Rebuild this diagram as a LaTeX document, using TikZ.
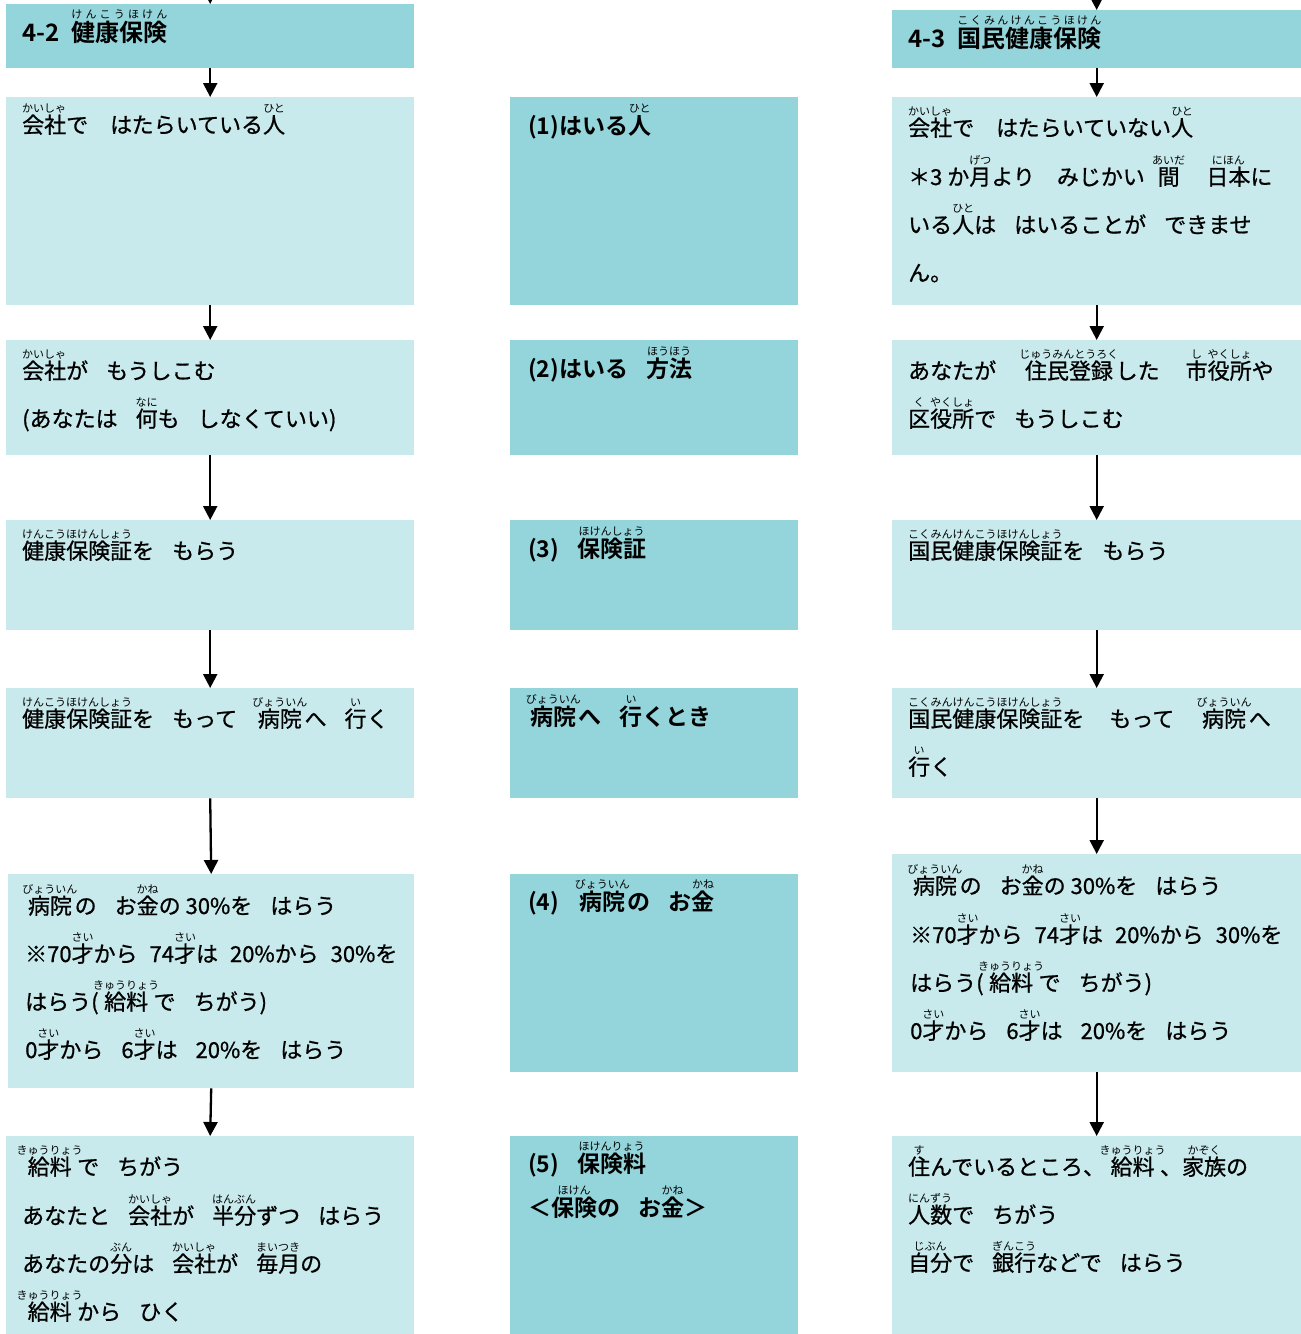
\documentclass[tikz,border=0pt]{standalone}
\usepackage{fontspec}
\setmainfont{Noto Sans CJK JP}[BoldFont={Noto Sans CJK JP Bold},UprightFeatures={FakeBold=0.8}]
\newfontfamily\rubyfam{Noto Sans CJK JP}
\usetikzlibrary{arrows.meta}
\definecolor{dteal}{RGB}{148,213,219}
\definecolor{lteal}{RGB}{200,234,236}
\def\rbraise{21pt}
\newcommand\rbfont{\rubyfam\fontsize{11pt}{12pt}\mdseries\selectfont}
% ruby centred above its base; a wider ruby widens the base a little
\newcommand\rb[2]{\leavevmode\begingroup
  \setbox0\hbox{#1}\setbox2\hbox{\rbfont #2}%
  \dimen0=\wd2 \advance\dimen0 by -\wd0 \divide\dimen0 by 2
  \ifdim\dimen0>0pt \setbox0\hbox to\dimexpr\wd0+\dimen0\relax{\hss\unhbox0\hss}\fi
  \rlap{\hbox to\wd0{\hss\raisebox{\rbraise}{\box2}\hss}}\box0\endgroup}
% ruby spread over the whole base (title lines)
\newcommand\rbd[2]{\leavevmode\begingroup
  \setbox0\hbox{#1}%
  \rlap{\raisebox{\rbraise}{\hbox to\wd0{\rbfont #2}}}\box0\endgroup}
\newcommand\gap{\hspace{18pt}}
\newcommand\sgap{\hspace{12pt}}
\tikzset{
  dbox/.style={fill=dteal, draw=none, inner sep=0pt, anchor=north west},
  lbox/.style={fill=lteal, draw=none, inner sep=0pt, anchor=north west},
  body/.style={anchor=base west, inner sep=0pt, font=\fontsize{22pt}{26pt}\selectfont\def\rbraise{21pt}},
  head/.style={anchor=base west, inner sep=0pt, font=\fontsize{24pt}{28pt}\selectfont\bfseries\def\rbraise{23pt}},
  mhead/.style={anchor=base west, inner sep=0pt, font=\fontsize{23pt}{27pt}\selectfont\bfseries\def\rbraise{22pt}},
  arr/.style={line width=2.3pt, -{Triangle[length=14pt,width=14pt]}},
}
\begin{document}
\begin{tikzpicture}[x=1pt,y=-1pt]
\fill[white] (0,0) rectangle (1301,1334);
\useasboundingbox (0,0) rectangle (1301,1334);
% left column boxes
\node[dbox, minimum width=408pt, minimum height=64pt] (LT) at (6,4) {};
\node[lbox, minimum width=408pt, minimum height=208pt] (L1) at (6,97) {};
\node[lbox, minimum width=408pt, minimum height=115pt] (L2) at (6,340) {};
\node[lbox, minimum width=408pt, minimum height=110pt] (L3) at (6,520) {};
\node[lbox, minimum width=408pt, minimum height=110pt] (L4) at (6,688) {};
\node[lbox, minimum width=406pt, minimum height=214pt] (L5) at (8,874) {};
\node[lbox, minimum width=408pt, minimum height=198pt] (L6) at (6,1136) {};
% middle column boxes
\node[dbox, minimum width=288pt, minimum height=208pt] (M1) at (510,97) {};
\node[dbox, minimum width=288pt, minimum height=115pt] (M2) at (510,340) {};
\node[dbox, minimum width=288pt, minimum height=110pt] (M3) at (510,520) {};
\node[dbox, minimum width=288pt, minimum height=110pt] (M4) at (510,688) {};
\node[dbox, minimum width=288pt, minimum height=198pt] (M5) at (510,874) {};
\node[dbox, minimum width=288pt, minimum height=198pt] (M6) at (510,1136) {};
% right column boxes
\node[dbox, minimum width=409pt, minimum height=58pt] (RT) at (892,10) {};
\node[lbox, minimum width=409pt, minimum height=208pt] (R1) at (892,97) {};
\node[lbox, minimum width=409pt, minimum height=115pt] (R2) at (892,340) {};
\node[lbox, minimum width=409pt, minimum height=110pt] (R3) at (892,520) {};
\node[lbox, minimum width=409pt, minimum height=110pt] (R4) at (892,688) {};
\node[lbox, minimum width=409pt, minimum height=218pt] (R5) at (892,854) {};
\node[lbox, minimum width=409pt, minimum height=198pt] (R6) at (892,1136) {};
% arrows
\coordinate (LTin) at (210,-20);
\coordinate (RTin) at (1096.5,-20);
\draw[arr] (LTin) -- (LT.north);
\draw[arr] (LT.south) -- (L1.north);
\draw[arr] (L1.south) -- (L2.north);
\draw[arr] (L2.south) -- (L3.north);
\draw[arr] (L3.south) -- (L4.north);
\draw[arr] (L4.south) -- (L5.north);
\draw[arr] (L5.south) -- (L6.north);
\draw[arr] (RTin) -- (RT.north);
\draw[arr] (RT.south) -- (R1.north);
\draw[arr] (R1.south) -- (R2.north);
\draw[arr] (R2.south) -- (R3.north);
\draw[arr] (R3.south) -- (R4.north);
\draw[arr] (R4.south) -- (R5.north);
\draw[arr] (R5.south) -- (R6.north);
% left texts
\node[head] (LTt) at (22,41) {4-2\hspace{12pt}\rbd{健康保険}{け\hfil ん\hfil こ\hfil う\hfil ほ\hfil け\hfil ん}};
\node[body] (L1t) at (22,133) {\rb{会社}{かいしゃ}で　はたらいている\rb{人}{ひと}};
\node[body] (L2a) at (22,379) {\rb{会社}{かいしゃ}が\gap もうしこむ};
\node[body] (L2b) at (22,427) {(あなたは\gap\rb{何}{なに}も\gap しなくていい)};
\node[body] (L3t) at (22,559) {\rb{健康保険証}{けんこうほけんしょう}を\gap もらう};
\node[body] (L4t) at (22,727) {\rb{健康保険証}{けんこうほけんしょう}を\gap もって\gap\rb{病院}{びょういん}へ\gap\rb{行}{い}く};
\node[body] (L5a) at (25,914) {\rb{病院}{びょういん}の\gap お\rb{金}{かね}の 30\%を\gap はらう};
\node[body] (L5b) at (25,962) {※70\rb{才}{さい}から\sgap 74\rb{才}{さい}は\sgap 20\%から\sgap 30\%を};
\node[body] (L5c) at (25,1010) {はらう(\rb{給料}{きゅうりょう}で\gap ちがう)};
\node[body] (L5d) at (25,1058) {0\rb{才}{さい}から\gap 6\rb{才}{さい}は\gap 20\%を\gap はらう};
\node[body] (L6a) at (22,1175) {\rb{給料}{きゅうりょう}で\gap ちがう};
\node[body] (L6b) at (22,1224) {あなたと\gap\rb{会社}{かいしゃ}が\gap\rb{半分}{はんぶん}ずつ\gap はらう};
\node[body] (L6c) at (22,1272) {あなたの\rb{分}{ぶん}は\gap\rb{会社}{かいしゃ}が\gap\rb{毎月}{まいつき}の};
\node[body] (L6d) at (22,1320) {\rb{給料}{きゅうりょう}から\gap ひく};
% middle texts
\node[mhead] (M1t) at (528,134) {(1)はいる\rb{人}{ひと}};
\node[mhead] (M2t) at (528,377) {(2)はいる\gap\rb{方法}{ほうほう}};
\node[mhead] (M3t) at (528,557) {(3)\gap\rb{保険証}{ほけんしょう}};
\node[mhead] (M4t) at (528,725) {\rb{病院}{びょういん}へ\gap\rb{行}{い}くとき};
\node[mhead] (M5t) at (528,910) {(4)\gap\rb{病院}{びょういん}の\gap お\rb{金}{かね}};
\node[mhead] (M6a) at (528,1172) {(5)\gap\rb{保険料}{ほけんりょう}};
\node[mhead] (M6b) at (528,1216) {＜\rb{保険}{ほけん}の\gap お\rb{金}{かね}＞};
% right texts
\node[head] (RTt) at (908,47) {4-3\hspace{12pt}\rbd{国民健康保険}{こ\hfil く\hfil み\hfil ん\hfil け\hfil ん\hfil こ\hfil う\hfil ほ\hfil け\hfil ん}};
\node[body] (R1a) at (908,136) {\rb{会社}{かいしゃ}で　はたらいていない\rb{人}{ひと}};
\node[body] (R1b) at (908,185) {＊3 か\rb{月}{げつ}より\hspace{22pt}みじかい\hspace{10pt}\rb{間}{あいだ}\hspace{24pt}\rb{日本}{にほん}に};
\node[body] (R1c) at (908,233) {いる\rb{人}{ひと}は\gap はいることが\gap できませ};
\node[body] (R1d) at (908,281) {ん。};
\node[body] (R2a) at (908,379) {あなたが\hspace{26pt}\rb{住民登録}{じゅうみんとうろく}した\hspace{26pt}\rb{市}{し}\rb{役所}{やくしょ}や};
\node[body] (R2b) at (908,427) {\rb{区}{く}\rb{役所}{やくしょ}で\gap もうしこむ};
\node[body] (R3t) at (908,559) {\rb{国民健康保険証}{こくみんけんこうほけんしょう}を\gap もらう};
\node[body] (R4a) at (908,727) {\rb{国民健康保険証}{こくみんけんこうほけんしょう}を\hspace{25pt}もって\hspace{25pt}\rb{病院}{びょういん}へ};
\node[body] (R4b) at (908,775) {\rb{行}{い}く};
\node[body] (R5a) at (910,894) {\rb{病院}{びょういん}の\gap お\rb{金}{かね}の 30\%を\gap はらう};
\node[body] (R5b) at (910,943) {※70\rb{才}{さい}から\sgap 74\rb{才}{さい}は\sgap 20\%から\sgap 30\%を};
\node[body] (R5c) at (910,991) {はらう(\rb{給料}{きゅうりょう}で\gap ちがう)};
\node[body] (R5d) at (910,1039) {0\rb{才}{さい}から\gap 6\rb{才}{さい}は\gap 20\%を\gap はらう};
\node[body] (R6a) at (908,1175) {\rb{住}{す}んでいるところ、\rb{給料}{きゅうりょう}、\rb{家族}{かぞく}の};
\node[body] (R6b) at (908,1223) {\rb{人数}{にんずう}で\gap ちがう};
\node[body] (R6c) at (908,1271) {\rb{自分}{じぶん}で\gap\rb{銀行}{ぎんこう}などで\gap はらう};
\end{tikzpicture}
\end{document}
